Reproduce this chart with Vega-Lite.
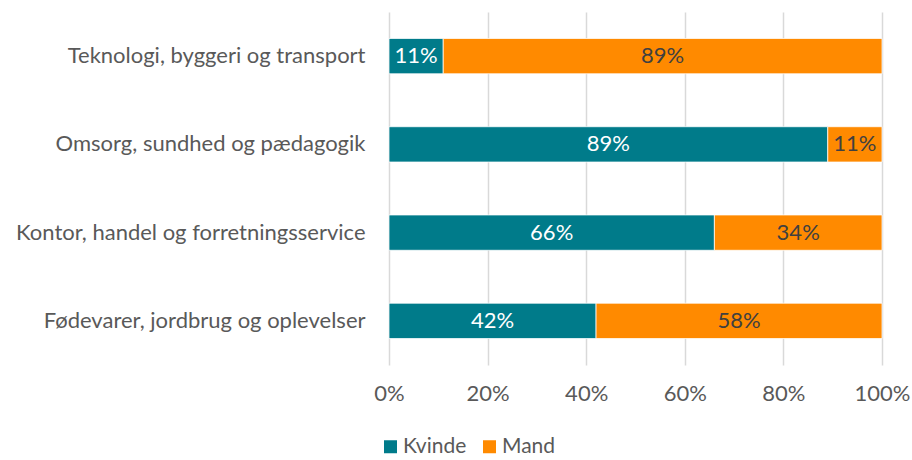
{
  "$schema": "https://vega.github.io/schema/vega-lite/v6.json",
  "width": 493,
  "height": 353,
  "autosize": {"type": "none"},
  "padding": {"left": 389, "top": 12, "right": 30, "bottom": 95},
  "background": "white",
  "config": {"view": {"stroke": null}, "font": "Lato"},
  "data": {
    "values": [
      {"cat": "Teknologi, byggeri og transport", "gender": "Kvinde", "ord": 1, "value": 11, "label": "11%"},
      {"cat": "Teknologi, byggeri og transport", "gender": "Mand", "ord": 2, "value": 89, "label": "89%"},
      {"cat": "Omsorg, sundhed og pædagogik", "gender": "Kvinde", "ord": 1, "value": 89, "label": "89%"},
      {"cat": "Omsorg, sundhed og pædagogik", "gender": "Mand", "ord": 2, "value": 11, "label": "11%"},
      {"cat": "Kontor, handel og forretningsservice", "gender": "Kvinde", "ord": 1, "value": 66, "label": "66%"},
      {"cat": "Kontor, handel og forretningsservice", "gender": "Mand", "ord": 2, "value": 34, "label": "34%"},
      {"cat": "Fødevarer, jordbrug og oplevelser", "gender": "Kvinde", "ord": 1, "value": 42, "label": "42%"},
      {"cat": "Fødevarer, jordbrug og oplevelser", "gender": "Mand", "ord": 2, "value": 58, "label": "58%"}
    ]
  },
  "encoding": {
    "y": {
      "field": "cat",
      "type": "nominal",
      "sort": ["Teknologi, byggeri og transport", "Omsorg, sundhed og pædagogik", "Kontor, handel og forretningsservice", "Fødevarer, jordbrug og oplevelser"],
      "scale": {"paddingInner": 0.6, "paddingOuter": 0.3},
      "axis": {"title": null, "domain": false, "ticks": false, "labelFontSize": 22, "labelColor": "#595959", "labelPadding": 24, "labelLimit": 400}
    }
  },
  "layer": [
    {
      "mark": {"type": "bar", "stroke": "white", "strokeWidth": 0.75},
      "encoding": {
        "x": {
          "field": "value",
          "type": "quantitative",
          "stack": "zero",
          "scale": {"domain": [0, 100], "nice": false},
          "axis": {
            "title": null,
            "values": [0, 20, 40, 60, 80, 100],
            "labelExpr": "datum.value + '%'",
            "labelFlush": false,
            "labelOverlap": false,
            "domain": false,
            "ticks": false,
            "grid": true,
            "gridColor": "#D9D9D9",
            "gridWidth": 1.5,
            "labelFontSize": 22,
            "labelColor": "#595959",
            "labelPadding": 18
          }
        },
        "color": {
          "field": "gender",
          "type": "nominal",
          "scale": {"domain": ["Kvinde", "Mand"], "range": ["#007B8A", "#FF8A00"]},
          "legend": {
            "title": null,
            "orient": "none",
            "direction": "horizontal",
            "legendX": -9,
            "legendY": 424,
            "symbolType": "square",
            "symbolSize": 169,
            "symbolStrokeWidth": 0,
            "labelFontSize": 21,
            "labelColor": "#595959",
            "labelOffset": 2,
            "columnPadding": 12
          }
        },
        "order": {"field": "ord", "type": "quantitative"}
      }
    },
    {
      "transform": [
        {"stack": "value", "groupby": ["cat"], "sort": [{"field": "ord"}], "as": ["v0", "v1"]},
        {"fold": ["v0", "v1"], "as": ["k", "pos"]},
        {"aggregate": [{"op": "mean", "field": "pos", "as": "mid"}], "groupby": ["cat", "gender", "label"]}
      ],
      "mark": {"type": "text", "fontSize": 22},
      "encoding": {
        "x": {"field": "mid", "type": "quantitative"},
        "text": {"field": "label"},
        "color": {"condition": {"test": "datum.gender == 'Kvinde'", "value": "white"}, "value": "#404040"}
      }
    }
  ]
}
